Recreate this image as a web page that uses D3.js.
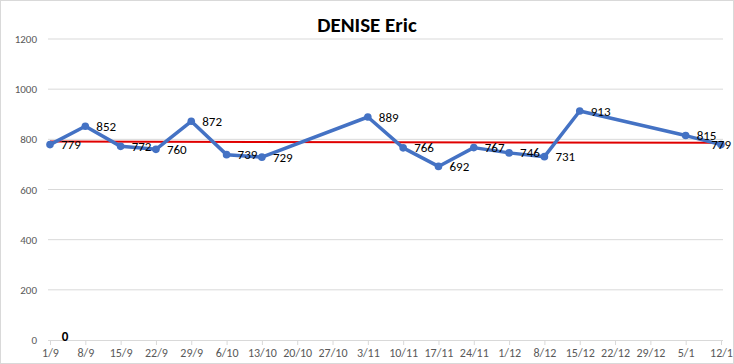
<!DOCTYPE html>
<html><head><meta charset="utf-8">
<script src="https://cdn.jsdelivr.net/npm/d3@7"></script>
<style>body{margin:0;background:#fff}svg{display:block;font-family:Carlito,Calibri,"Open Sans",sans-serif}</style>
</head><body><svg id="c" width="734" height="364"></svg>
<script>
const title = "DENISE Eric";
const dates = ["2019-09-01","2019-09-08","2019-09-15","2019-09-22","2019-09-29","2019-10-06","2019-10-13","2019-11-03","2019-11-10","2019-11-17","2019-11-24","2019-12-01","2019-12-08","2019-12-15","2020-01-05","2020-01-12"];
const values = [779,852,772,760,872,739,729,889,766,692,767,746,731,913,815,779];
const refDates = ["2019-09-01","2020-01-12"];
const refValues = [791,786];
const yTicks = [0,200,400,600,800,1000,1200];
const zeroLabel = {date:"2019-09-04", value:0, text:"0"};

const parse = d3.timeParse("%Y-%m-%d");
const svg = d3.select("#c");
svg.append("rect").attr("x",0.5).attr("y",0.5).attr("width",733).attr("height",363)
  .attr("fill","#fff").attr("stroke","#d9d9d9");

const x = d3.scaleTime().domain([parse("2019-09-01"), parse("2020-01-12")]).range([50,721]);
const y = d3.scaleLinear().domain([0,1200]).range([340,39]);

// gridlines
svg.append("g").selectAll("line").data(yTicks.filter(d=>d>0)).join("line")
  .attr("x1",48).attr("x2",723).attr("y1",d=>y(d)).attr("y2",d=>y(d))
  .attr("stroke","#d9d9d9").attr("stroke-width",1);

// y axis labels
const yAxis = d3.axisLeft(y).tickValues(yTicks).tickFormat(d3.format("d")).tickSize(0).tickPadding(0);
const gy = svg.append("g").attr("transform","translate(37,0)").call(yAxis);
gy.select(".domain").remove();
gy.selectAll("text").attr("fill","#595959").style("font-size","11px").style("font-family","Carlito,Calibri,'Open Sans',sans-serif");

// x axis
const xt = d3.timeWeek.range(parse("2019-09-01"), d3.timeDay.offset(parse("2020-01-12"),1));
const xAxis = d3.axisBottom(x).tickValues(xt).tickFormat(d3.timeFormat("%-d/%-m")).tickSize(5).tickSizeOuter(0);
const gx = svg.append("g").attr("transform","translate(0,340)").call(xAxis);
gx.select(".domain").attr("stroke","#d9d9d9").attr("d","M48,0.5H723");
gx.selectAll(".tick line").attr("stroke","#d9d9d9").attr("y1",0).attr("y2",5);
gx.selectAll("text").attr("fill","#595959").attr("dy","0.71em").attr("y",8).style("font-size","12px").style("font-family","Carlito,Calibri,'Open Sans',sans-serif");

// reference (red) line
const refData = refDates.map((d,i)=>({d:parse(d),v:refValues[i]}));
svg.append("path").datum(refData)
  .attr("d",d3.line().x(d=>x(d.d)).y(d=>y(d.v)))
  .attr("fill","none").attr("stroke","#e00000").attr("stroke-width",2);

// series
const data = dates.map((d,i)=>({d:parse(d),v:values[i]}));
svg.append("path").datum(data)
  .attr("d",d3.line().x(d=>x(d.d)).y(d=>y(d.v)))
  .attr("fill","none").attr("stroke","#4472c4").attr("stroke-width",3.5).attr("stroke-linejoin","round");
svg.append("g").selectAll("circle").data(data).join("circle")
  .attr("cx",d=>x(d.d)).attr("cy",d=>y(d.v)).attr("r",3.8).attr("fill","#4472c4");

// data labels
const last = data.length - 1;
svg.append("g").selectAll("text").data(data).join("text")
  .attr("x",(d,i)=> i===last ? 731 : x(d.d)+11)
  .attr("text-anchor",(d,i)=> i===last ? "end" : "start")
  .attr("y",d=>y(d.v)).attr("dy","0.35em")
  .attr("fill","#000").style("font-size","13px").text(d=>d.v);

// zero label
svg.append("text").attr("x",x(parse(zeroLabel.date))).attr("y",y(zeroLabel.value)).attr("dy","0.1em")
  .attr("text-anchor","middle").attr("font-weight","bold").style("font-size","13px").text(zeroLabel.text);

// title
svg.append("text").attr("x",367).attr("y",32).attr("text-anchor","middle")
  .attr("font-weight","bold").style("font-size","21px").attr("fill","#000").text(title);
</script></body></html>
